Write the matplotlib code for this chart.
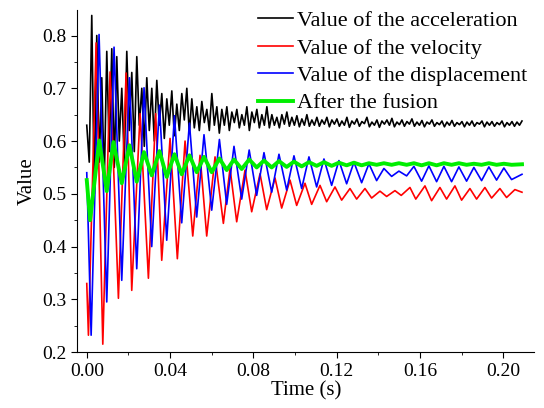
import numpy as np
import matplotlib
matplotlib.use("Agg")
import matplotlib.pyplot as plt
from matplotlib.ticker import MultipleLocator

plt.rcParams['font.family'] = ['Liberation Serif', 'DejaVu Serif']

# displacement (blue): extremes
disp_t = [0.0, 0.0021, 0.0059, 0.0096, 0.0131, 0.0168, 0.0205, 0.024, 0.0275, 0.0312,
          0.0349, 0.0384, 0.0421, 0.0456, 0.0493, 0.0528, 0.0563, 0.06, 0.0637, 0.0672,
          0.0707, 0.0744, 0.078, 0.0816, 0.0851, 0.0888, 0.0923, 0.096, 0.0995, 0.1032,
          0.1067, 0.1104, 0.1139, 0.1176, 0.1211, 0.1248, 0.1283, 0.132, 0.1355, 0.1392,
          0.1427, 0.1464, 0.1499, 0.1536, 0.1571, 0.1608, 0.1643, 0.168, 0.1715, 0.1752,
          0.1787, 0.1824, 0.1859, 0.1896, 0.1931, 0.1968, 0.2003, 0.204, 0.209]
disp_v = [0.54, 0.232, 0.802, 0.295, 0.778, 0.336, 0.72, 0.358, 0.701, 0.40,
          0.668, 0.412, 0.648, 0.445, 0.634, 0.456, 0.612, 0.469, 0.603, 0.48,
          0.59, 0.49, 0.583, 0.497, 0.578, 0.503, 0.575, 0.507, 0.572, 0.51,
          0.57, 0.513, 0.566, 0.516, 0.563, 0.519, 0.56, 0.521, 0.557, 0.525,
          0.548, 0.533, 0.543, 0.534, 0.552, 0.524, 0.553, 0.523, 0.552, 0.523,
          0.551, 0.524, 0.55, 0.525, 0.551, 0.526, 0.549, 0.527, 0.537]

# velocity (red)
vel_t = [0.0, 0.0008, 0.0045, 0.0077, 0.0112, 0.0152, 0.0189, 0.0216, 0.0256, 0.0296,
         0.0331, 0.036, 0.04, 0.0435, 0.0472, 0.0509, 0.0544, 0.0576, 0.0616, 0.0656,
         0.0688, 0.072, 0.076, 0.0792, 0.0832, 0.0864, 0.0904, 0.0936, 0.0976, 0.1008,
         0.1048, 0.108, 0.112, 0.1152, 0.1192, 0.1224, 0.1264, 0.1296, 0.1336, 0.1368,
         0.1408, 0.144, 0.148, 0.151, 0.1552, 0.158, 0.1624, 0.1656, 0.1696, 0.1728,
         0.1768, 0.18, 0.184, 0.1872, 0.1912, 0.1944, 0.1984, 0.2016, 0.2056, 0.209]
vel_v = [0.33, 0.232, 0.786, 0.215, 0.731, 0.302, 0.729, 0.317, 0.652, 0.34,
         0.652, 0.374, 0.605, 0.377, 0.60, 0.42, 0.573, 0.42, 0.57, 0.444,
         0.548, 0.447, 0.545, 0.466, 0.538, 0.47, 0.53, 0.473, 0.526, 0.478,
         0.52, 0.48, 0.516, 0.485, 0.513, 0.488, 0.51, 0.49, 0.51, 0.492,
         0.505, 0.495, 0.506, 0.497, 0.512, 0.49, 0.515, 0.487, 0.512, 0.49,
         0.515, 0.488, 0.51, 0.49, 0.512, 0.492, 0.51, 0.493, 0.508, 0.503]

# after the fusion (green)
fus_t = [0.0, 0.0016, 0.006, 0.0096, 0.0128, 0.0168, 0.0205, 0.024, 0.0275, 0.0312,
         0.0349, 0.0384, 0.0421, 0.0456, 0.0493, 0.0528, 0.0563, 0.06, 0.0637, 0.0672,
         0.0707, 0.0744, 0.078, 0.0816, 0.0851, 0.0888, 0.0923, 0.096, 0.0995, 0.1032,
         0.1067, 0.1104, 0.1139, 0.1176, 0.1211, 0.1248, 0.1283, 0.132, 0.1355, 0.1392,
         0.1427, 0.1464, 0.1499, 0.1536, 0.1571, 0.1608, 0.1643, 0.168, 0.1715, 0.1752,
         0.1787, 0.1824, 0.1859, 0.1896, 0.1931, 0.1968, 0.2003, 0.204, 0.209]
fus_v = [0.526, 0.45, 0.601, 0.505, 0.598, 0.52, 0.592, 0.523, 0.579, 0.535,
         0.581, 0.532, 0.575, 0.537, 0.573, 0.541, 0.57, 0.541, 0.567, 0.545,
         0.565, 0.547, 0.565, 0.55, 0.563, 0.55, 0.562, 0.551, 0.561, 0.552,
         0.56, 0.553, 0.56, 0.553, 0.559, 0.554, 0.559, 0.554, 0.558, 0.555,
         0.558, 0.555, 0.558, 0.555, 0.558, 0.554, 0.558, 0.554, 0.558, 0.555,
         0.558, 0.555, 0.557, 0.555, 0.558, 0.555, 0.557, 0.555, 0.556]

# acceleration (black), sampled evenly from 0 to 0.209 s
acc_v = [0.63, 0.56, 0.838, 0.50, 0.80, 0.56, 0.72, 0.52, 0.77, 0.58,
         0.775, 0.55, 0.76, 0.60, 0.70, 0.56, 0.77, 0.62, 0.73, 0.58,
         0.76, 0.63, 0.70, 0.59, 0.72, 0.62, 0.70, 0.60, 0.715, 0.63,
         0.69, 0.605, 0.68, 0.63, 0.695, 0.61, 0.67, 0.62, 0.69, 0.64,
         0.70, 0.615, 0.68, 0.625, 0.665, 0.62, 0.675, 0.635, 0.66, 0.62,
         0.69, 0.63, 0.665, 0.615, 0.66, 0.63, 0.665, 0.62, 0.655, 0.635,
         0.66, 0.625, 0.65, 0.63, 0.665, 0.62, 0.655, 0.635, 0.66, 0.625,
         0.65, 0.63, 0.665, 0.625, 0.65, 0.63, 0.645, 0.625, 0.65, 0.632,
         0.655, 0.628, 0.645, 0.63, 0.648, 0.627, 0.642, 0.63, 0.65, 0.628,
         0.64, 0.63, 0.645, 0.628, 0.64, 0.632, 0.645, 0.627, 0.64, 0.632,
         0.642, 0.628, 0.638, 0.63, 0.645, 0.626, 0.638, 0.632, 0.642, 0.628,
         0.637, 0.633, 0.645, 0.627, 0.636, 0.63, 0.64, 0.626, 0.638, 0.632,
         0.64, 0.63, 0.643, 0.627, 0.636, 0.631, 0.64, 0.628, 0.637, 0.632,
         0.642, 0.628, 0.636, 0.63, 0.639, 0.627, 0.636, 0.632, 0.64, 0.628,
         0.635, 0.631, 0.638, 0.627, 0.636, 0.63, 0.639, 0.628, 0.635, 0.631,
         0.637, 0.627, 0.636, 0.63, 0.638, 0.628, 0.635, 0.632, 0.638, 0.627,
         0.636, 0.63, 0.637, 0.628, 0.635, 0.631, 0.638, 0.627, 0.635, 0.63,
         0.637, 0.628, 0.636, 0.63, 0.638]
acc_t = np.linspace(0, 0.209, len(acc_v))

labels = ["Value of the acceleration", "Value of the velocity",
          "Value of the displacement", "After the fusion"]

fig = plt.figure(figsize=(5.44, 4.08), dpi=100)
ax = fig.add_axes([0.1415, 0.137, 0.841, 0.838])

ax.plot(acc_t, acc_v, color='black', lw=1.2, label=labels[0])
ax.plot(vel_t, vel_v, color='red', lw=1.2, label=labels[1])
ax.plot(disp_t, disp_v, color='blue', lw=1.2, label=labels[2])
ax.plot(fus_t, fus_v, color='#00ee00', lw=2.8, label=labels[3])

ax.set_xlim(-0.0047, 0.215)
ax.set_ylim(0.2, 0.848)
ax.xaxis.set_major_locator(MultipleLocator(0.04))
ax.xaxis.set_minor_locator(MultipleLocator(0.02))
ax.yaxis.set_major_locator(MultipleLocator(0.1))
ax.yaxis.set_minor_locator(MultipleLocator(0.05))
ax.xaxis.set_major_formatter(plt.FuncFormatter(lambda v, p: f"{v:.2f}"))
ax.yaxis.set_major_formatter(plt.FuncFormatter(lambda v, p: f"{v:.1f}"))
ax.tick_params(which='major', direction='out', length=4, labelsize=14)
ax.tick_params(which='minor', direction='out', length=2)
ax.spines['top'].set_visible(False)
ax.spines['right'].set_visible(False)

ax.set_xlabel("Time (s)", fontsize=15, labelpad=1)
ax.set_ylabel("Value", fontsize=15, labelpad=4)

ax.legend(loc='upper right', frameon=False, fontsize=16, handlelength=1.55,
          handletextpad=0.2, labelspacing=0.31, borderaxespad=0.0, borderpad=0.2,
          bbox_to_anchor=(0.994, 1.012))

fig.savefig("out.png", dpi=100)
